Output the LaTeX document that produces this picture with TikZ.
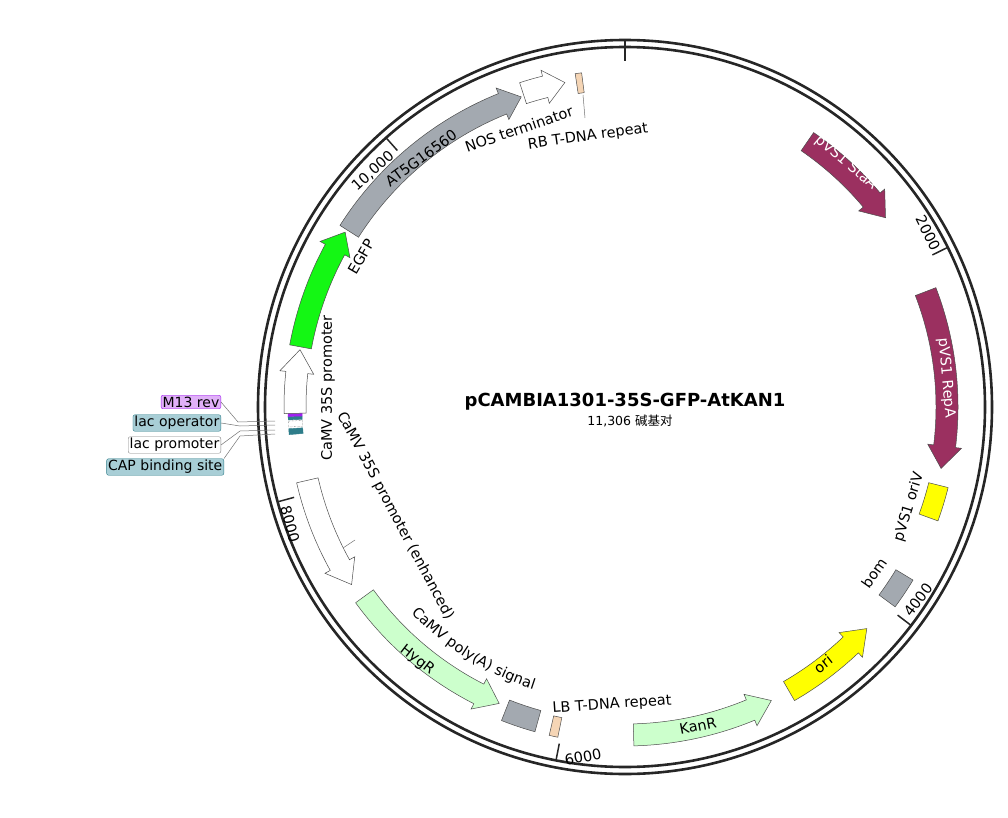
\documentclass[tikz,border=0pt]{standalone}
\usepackage{fontspec}
\setmainfont{DejaVu Sans}
\newfontfamily\cjk{Noto Sans CJK SC}
\usetikzlibrary{decorations.text}
\newcommand\lblfont{\fontsize{14.5}{16}\selectfont}
\begin{document}
\begin{tikzpicture}[x=1pt,y=1pt,
  lbl/.style={font=\lblfont, inner sep=1pt},
  tag/.style={font=\fontsize{14}{16}\selectfont, draw, rounded corners=2pt, inner sep=1.5pt, anchor=east},
  feat/.style={draw=black!70, line width=0.5pt},
  lead/.style={draw=black!55, line width=0.5pt}]
\definecolor{pvs}{HTML}{9B3060}
\definecolor{gry}{HTML}{A3A9B0}
\definecolor{egfp}{HTML}{14F714}
\definecolor{lgr}{HTML}{CCFFCC}
\definecolor{yel}{HTML}{FFFF00}
\definecolor{beige}{HTML}{F5D5B5}
\definecolor{m13}{HTML}{E0B0F8}
\definecolor{m13b}{HTML}{A020F0}
\definecolor{lacb}{HTML}{A8CED6}
\definecolor{lacd}{HTML}{2E7D8A}
\useasboundingbox (0,0) rectangle (1008,-818);
\coordinate (C) at (625,-407);
% clockwise arrow: start, end, head deg, style, radius
\newcommand\fcw[5]{\path[#4] ([shift={(C)}]{90-#1}:{(#5+11)*1pt}) arc[start angle={90-#1}, end angle={90-#2+#3}, radius={(#5+11)*1pt}] -- ([shift={(C)}]{90-#2+#3}:{(#5+17)*1pt}) -- ([shift={(C)}]{90-#2}:{(#5)*1pt}) -- ([shift={(C)}]{90-#2+#3}:{(#5-17)*1pt}) -- ([shift={(C)}]{90-#2+#3}:{(#5-11)*1pt}) arc[start angle={90-#2+#3}, end angle={90-#1}, radius={(#5-11)*1pt}] -- cycle;}
\newcommand\fccw[5]{\path[#4] ([shift={(C)}]{90-#2}:{(#5+11)*1pt}) arc[start angle={90-#2}, end angle={90-#1-#3}, radius={(#5+11)*1pt}] -- ([shift={(C)}]{90-#1-#3}:{(#5+17)*1pt}) -- ([shift={(C)}]{90-#1}:{(#5)*1pt}) -- ([shift={(C)}]{90-#1-#3}:{(#5-17)*1pt}) -- ([shift={(C)}]{90-#1-#3}:{(#5-11)*1pt}) arc[start angle={90-#1-#3}, end angle={90-#2}, radius={(#5-11)*1pt}] -- cycle;}
\newcommand\fbx[5]{\path[#3] ([shift={(C)}]{90-#1}:{(#4+#5)*1pt}) arc[start angle={90-#1}, end angle={90-#2}, radius={(#4+#5)*1pt}] -- ([shift={(C)}]{90-#2}:{(#4-#5)*1pt}) arc[start angle={90-#2}, end angle={90-#1}, radius={(#4-#5)*1pt}] -- cycle;}
% rings
\draw[line width=2.6pt, black!85] (C) circle[radius=367pt];
\draw[line width=2.6pt, black!85] (C) circle[radius=360pt];
% ticks
\draw[line width=2pt, black!85] ([shift={(C)}]90:346pt) -- ([shift={(C)}]90:367pt);
\foreach \a in {63.68,127.36,191.05,254.73,318.41}{
  \draw[line width=1.5pt, black!85] ([shift={(C)}]{90-\a}:343pt) -- ([shift={(C)}]{90-\a}:360pt);}
\node[lbl, rotate=-64] (t2) at (928,-233) {2000};
\node[lbl, rotate=53] (t4) at (918,-600) {4000};
\node[lbl, rotate=11] (t6) at (583,-757) {6000};
\node[lbl, rotate=-75] (t8) at (290,-524) {8000};
\node[lbl, rotate=42] (t10) at (373,-171) {10,000};
% features
\fcw{34.5}{54}{4}{feat, fill=pvs}{322}
\fcw{69}{101}{4}{feat, fill=pvs}{322}
\fbx{104}{110}{feat, fill=yel}{323}{10}
\fbx{121}{126.5}{feat, fill=gry}{326}{10}
\fccw{132.5}{150}{4}{feat, fill=yel}{328}
\fccw{153.5}{178.5}{4}{feat, fill=lgr}{328}
\fbx{191.5}{193}{feat, fill=beige}{327}{10}
\fbx{195.5}{201.5}{feat, fill=gry}{326}{11}
\fccw{203}{234}{4}{feat, fill=lgr}{322}
\fccw{237}{257}{4}{feat, fill=white}{326}
\fbx{265.3}{266.3}{draw=lacd, fill=lacd}{330}{7}
\fbx{266.6}{267.6}{draw=black!70, fill=white, densely dotted}{330}{7}
\fbx{267.8}{268.4}{draw=lacd, fill=lacd}{330}{7}
\fbx{268.4}{268.9}{draw=m13b, fill=m13b}{330}{7}
\fcw{268.9}{280}{4}{feat, fill=white}{330}
\fcw{280.5}{302}{3.5}{feat, fill=egfp}{330}
\fcw{302.5}{341.5}{3.5}{feat, fill=gry}{327}
\fcw{342}{349.5}{3.5}{feat, fill=white}{330}
\fbx{351.5}{352.6}{feat, fill=beige}{327}{10}
% feature labels
\node[lbl, white, rotate=-40] (staa) at (846,-163) {pVS1 StaA};
\node[lbl, white, rotate=-85] (repa) at (946,-378) {pVS1 RepA};
\node[lbl, rotate=73] (oriv) at (909,-507) {pVS1 oriV};
\node[lbl, rotate=55] (bom) at (874,-573) {bom};
\node[lbl, rotate=38] (ori) at (823,-664) {ori};
\node[lbl, rotate=11] (kanr) at (698,-726) {KanR};
\node[lbl, rotate=4] (lb) at (612,-705) {LB T-DNA repeat};
\path[decorate, decoration={text along path, text align=center, text={|\lblfont|CaMV poly(A) signal}}]
  ([shift={(C)}]-141:297pt) arc[start angle=-141, end angle=-103, radius=297pt];
\node[lbl, rotate=-38] (hygr) at (417,-660) {HygR};
\node[lbl, rotate=-62] (enh) at (395,-516) {CaMV 35S promoter (enhanced)};
\node[lbl, rotate=90] (p35) at (328,-388) {CaMV 35S promoter};
\node[lbl, rotate=60] (egfpl) at (361,-257) {EGFP};
\node[lbl, rotate=36] (at5) at (421,-158) {AT5G16560};
\node[lbl, rotate=19] (nos) at (519,-129) {NOS terminator};
\node[lbl, rotate=8] (rb) at (588,-137) {RB T-DNA repeat};
\draw[lead] (583,-95) -- (585,-118);
\draw[lead] (343,-548) -- (355,-540);
% left tags
\node[tag, draw=m13b, fill=m13] (m13) at (221,-402) {M13 rev};
\node[tag, draw=lacd, fill=lacb] (lo) at (221,-423) {lac operator};
\node[tag, draw=black!50, fill=white] (lp) at (221,-445) {lac promoter};
\node[tag, draw=lacd, fill=lacb] (cap) at (224,-467) {CAP binding site};
\draw[lead] (m13.east) -- (238,-422) -- (275,-421);
\draw[lead] (lo.east) -- (240,-426) -- (275,-425);
\draw[lead] (lp.east) -- (240,-431) -- (275,-430);
\draw[lead] (cap.north east) -- (240,-436) -- (275,-434);
% centre
\node[font=\fontsize{18}{21}\selectfont\bfseries] (title) at (625,-402) {pCAMBIA1301-35S-GFP-AtKAN1};
\node[font=\fontsize{12.5}{14}\selectfont] (len) at (630,-421) {11,306 {\cjk 碱基对}};
\end{tikzpicture}
\end{document}
